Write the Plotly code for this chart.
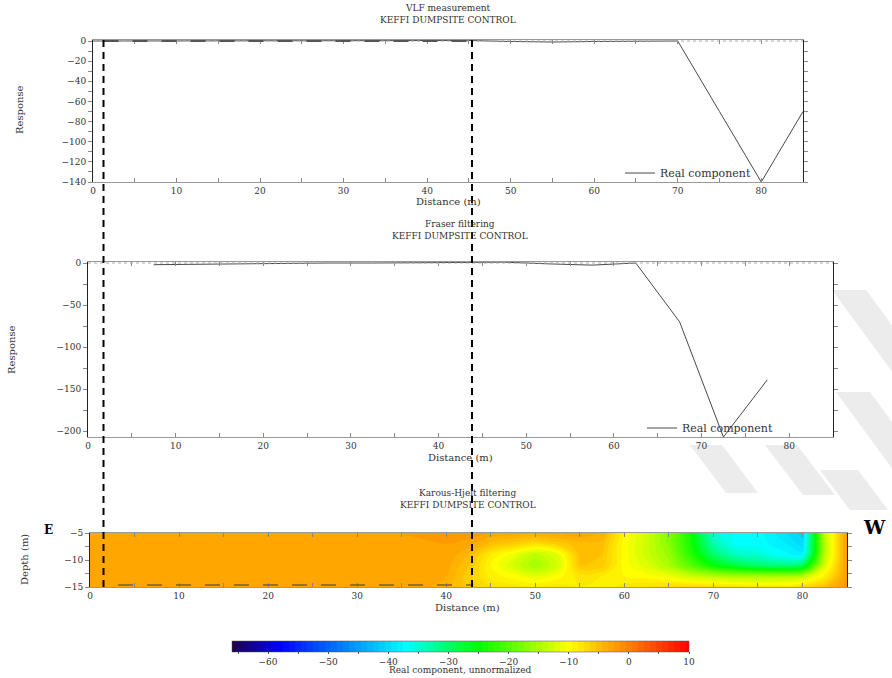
import plotly.graph_objects as go

W, H = 892, 678


def px(x):
    return x / W


def py(y):
    return 1 - y / H


# ---------------- data ----------------
vlf_distance = [0, 5, 10, 15, 20, 25, 30, 35, 40, 45, 50, 55, 60, 65, 70, 75, 80, 85]
vlf_real = [0, 0, 0, 0, 0, 0, 0, 0, 0, 0.5, -0.5, -1, -0.5, 0, 0, -70, -140, -70]

fraser_distance = [7.5, 12.5, 17.5, 22.5, 27.5, 32.5, 37.5, 42.5, 47.5, 52.5, 57.5, 62.5, 67.5, 72.5, 77.5]
fraser_real = [-2, -1.5, -0.5, 0, 0, 0, 0.5, 1, 1, -1, -2.5, 0, -70, -207, -139]

kh_distance = [0, 5, 10, 15, 20, 25, 30, 35, 40, 42.5, 45, 47.5, 50, 52.5, 55, 57.5,
               60, 62.5, 65, 67.5, 70, 72.5, 75, 77.5, 80, 82.5, 85]
kh_depth = [-5, -7, -9, -11, -13, -15]
kh_real = [
    [-2.5, -2.5, -2.5, -2.5, -2.5, -2.5, -2.5, -2.5, -2, -2, -2.5, -3, -3, -3, -2.5, -3.5,
     -9.5, -13, -17, -24, -35, -37, -37, -39, -41, -14, -2],
    [-2.5, -2.5, -2.5, -2.5, -2.5, -2.5, -2.5, -2.5, -2.5, -3, -5, -6, -7.5, -6, -5, -5,
     -10, -13, -17, -24, -33, -37, -37, -38, -40, -14, -2],
    [-2.5, -2.5, -2.5, -2.5, -2.5, -2.5, -2.5, -2.5, -2.5, -4.5, -8.5, -11, -14, -11.5, -5, -5.5,
     -10, -13, -16, -23, -30, -34, -35, -37, -38, -14, -2],
    [-2.5, -2.5, -2.5, -2.5, -2.5, -2.5, -2.5, -2.5, -3, -5.5, -9.5, -12.5, -15.5, -12.5, -5.5, -6,
     -10, -12, -15, -20, -25, -28, -30, -31, -29, -12, -2],
    [-2.5, -2.5, -2.5, -2.5, -2.5, -2.5, -2.5, -2.5, -3.5, -6, -9, -10, -11.5, -10, -8, -8.5,
     -9.5, -10, -11, -13, -14, -15, -15, -15, -14, -9, -2],
    [-2.5, -2.5, -2.5, -2.5, -2.5, -2.5, -2.5, -2.5, -4, -6, -7.5, -8, -8.5, -8, -8.5, -9,
     -8, -7.5, -7, -7, -7, -7.5, -8, -8, -7, -5, -2],
]

panel_titles = ["VLF measurement", "Fraser filtering", "Karous-Hjelt filtering"]
site_title = "KEFFI DUMPSITE CONTROL"
colorbar_title = "Real component, unnormalized"
colorbar_range = [-66, 10]

# ---------------- styling ----------------
FONT = "DejaVu Serif"
TXT = "#333333"
LINE = "#4a4a4a"

colorscale = [
    [0.0, "rgb(30,0,70)"],
    [0.105, "rgb(0,0,255)"],
    [0.382, "rgb(0,255,255)"],
    [0.539, "rgb(0,255,0)"],
    [0.737, "rgb(255,255,0)"],
    [1.0, "rgb(255,0,0)"],
]

fig = go.Figure()

fig.add_trace(go.Scatter(
    x=vlf_distance, y=vlf_real, mode="lines", name="Real component",
    line=dict(color=LINE, width=1), xaxis="x", yaxis="y", legend="legend", showlegend=True,
))
fig.add_trace(go.Scatter(
    x=fraser_distance, y=fraser_real, mode="lines", name="Real component",
    line=dict(color=LINE, width=1), xaxis="x2", yaxis="y2", legend="legend2", showlegend=True,
))
fig.add_trace(go.Contour(
    x=kh_distance, y=kh_depth, z=kh_real, xaxis="x3", yaxis="y3",
    coloraxis="coloraxis", showlegend=False,
    contours=dict(start=-65.5, end=9.5, size=1, coloring="fill", showlines=False),
    line=dict(width=0),
))

tickfont = dict(family=FONT, size=9, color=TXT)


def xaxis(domain, anchor):
    return dict(domain=domain, anchor=anchor, range=[0, 85], tick0=0, dtick=5, ticklabelstep=2,
                ticks="inside", ticklen=4, tickcolor="#888", showline=True, linecolor="#999",
                linewidth=1, mirror="allticks", showgrid=False, zeroline=False,
                tickfont=tickfont, automargin=False)


def yaxis(domain, anchor, rng, dtick, step):
    return dict(domain=domain, anchor=anchor, range=rng, tick0=0, dtick=dtick, ticklabelstep=step,
                ticks="outside", ticklen=4, tickcolor="#888", showline=True, linecolor="#222",
                linewidth=1, mirror="allticks", showgrid=False, zeroline=False,
                tickfont=tickfont, automargin=False)


ax1 = xaxis([px(93), px(803)], "y")
ay1 = yaxis([py(182), py(40)], "x", [-140, 1], 10, 2)
ax2 = xaxis([px(88), px(833)], "y2")
ay2 = yaxis([py(437), py(262)], "x2", [-207, 1.2], 25, 2)
ax3 = xaxis([px(90), px(847)], "y3")
ay3 = yaxis([py(587), py(533)], "x3", [-15, -5], 2.5, 2)
ay3["tick0"] = -5

annotations = []


def text(x, y, s, size=11, angle=0, bold=False, color=TXT):
    annotations.append(dict(
        x=px(x), y=py(y), xref="paper", yref="paper", text=("<b>%s</b>" % s) if bold else s,
        showarrow=False, textangle=angle, xanchor="center", yanchor="middle",
        font=dict(family=FONT, size=size, color=color),
    ))


# panel titles
text(448, 8, panel_titles[0], 9)
text(448, 20, site_title, 9)
text(460, 224, panel_titles[1], 9)
text(460, 236, site_title, 9)
text(468, 493, panel_titles[2], 9)
text(468, 505, site_title, 9)
# axis titles
text(448, 201, "Distance (m)", 10)
text(460, 457, "Distance (m)", 10)
text(468, 607, "Distance (m)", 10)
text(20, 110, "Response", 10, -90)
text(12, 350, "Response", 10, -90)
text(24, 560, "Depth (m)", 10, -90)
# colour-bar title
text(460, 670, colorbar_title, 9)
# orientation letters
text(48, 530, "E", 12, bold=True, color="#000")
text(874, 527, "W", 19, bold=True, color="#000")

shapes = []


def band(x0, y0, w, h, s):
    pts = [(x0, y0), (x0 + w, y0), (x0 + w + s, y0 + h), (x0 + s, y0 + h)]
    path = "M " + " L ".join("%.4f,%.4f" % (px(a), py(b)) for a, b in pts) + " Z"
    return dict(type="path", xref="paper", yref="paper", path=path, layer="below",
                fillcolor="#ececec", line=dict(width=0))


# faint background watermark strokes
for args in ((832, 290, 34, 95, 70), (836, 392, 34, 90, 66), (690, 445, 32, 48, 36),
             (765, 445, 32, 50, 38), (820, 470, 38, 40, 30)):
    shapes.append(band(*args))

# zero reference lines
for xr, yr in (("x", "y"), ("x2", "y2")):
    shapes.append(dict(type="line", xref=xr, yref=yr, x0=0, x1=85, y0=0, y1=0,
                       line=dict(color="#aaaaaa", width=1, dash="dot"), layer="above"))
# dashed interpretation box across the panels
shapes.append(dict(type="line", xref="paper", yref="paper", x0=px(103.5), x1=px(472),
                   y0=py(41), y1=py(41), line=dict(color="#555", width=2, dash="15px,14px")))
shapes.append(dict(type="line", xref="paper", yref="paper", x0=px(118), x1=px(472),
                   y0=py(585), y1=py(585), line=dict(color="rgba(70,70,70,0.55)", width=2,
                                                     dash="15px,14px")))
for xv in (103.5, 472):
    shapes.append(dict(type="line", xref="paper", yref="paper", x0=px(xv), x1=px(xv),
                       y0=py(40), y1=py(588), line=dict(color="#000", width=2, dash="7px,5px")))

legend_common = dict(xanchor="left", yanchor="middle", bgcolor="rgba(0,0,0,0)",
                     borderwidth=0, font=dict(family=FONT, size=11, color=TXT),
                     itemwidth=30, tracegroupgap=0)

fig.update_layout(
    width=W, height=H, margin=dict(l=0, r=0, t=0, b=0, pad=0, autoexpand=False),
    paper_bgcolor="white", plot_bgcolor="white",
    font=dict(family=FONT, size=10, color=TXT),
    xaxis=ax1, yaxis=ay1, xaxis2=ax2, yaxis2=ay2, xaxis3=ax3, yaxis3=ay3,
    showlegend=True,
    legend=dict(x=px(620), y=py(173), **legend_common),
    legend2=dict(x=px(642), y=py(428), **legend_common),
    coloraxis=dict(
        colorscale=colorscale, cmin=colorbar_range[0], cmax=colorbar_range[1],
        colorbar=dict(
            orientation="h", x=px(460.5), xanchor="center", y=py(641), yanchor="top",
            lenmode="pixels", len=457, thicknessmode="pixels", thickness=11,
            xpad=0, ypad=0, outlinewidth=0.5, outlinecolor="#555",
            tickmode="linear", tick0=0, dtick=5, ticklabelstep=2,
            ticks="outside", ticklen=2, tickcolor="#555",
            tickfont=dict(family=FONT, size=9, color=TXT),
        ),
    ),
    annotations=annotations, shapes=shapes,
)

fig.write_html("out.html", config={"displayModeBar": False},
               post_script="document.body.style.margin='0px';")
